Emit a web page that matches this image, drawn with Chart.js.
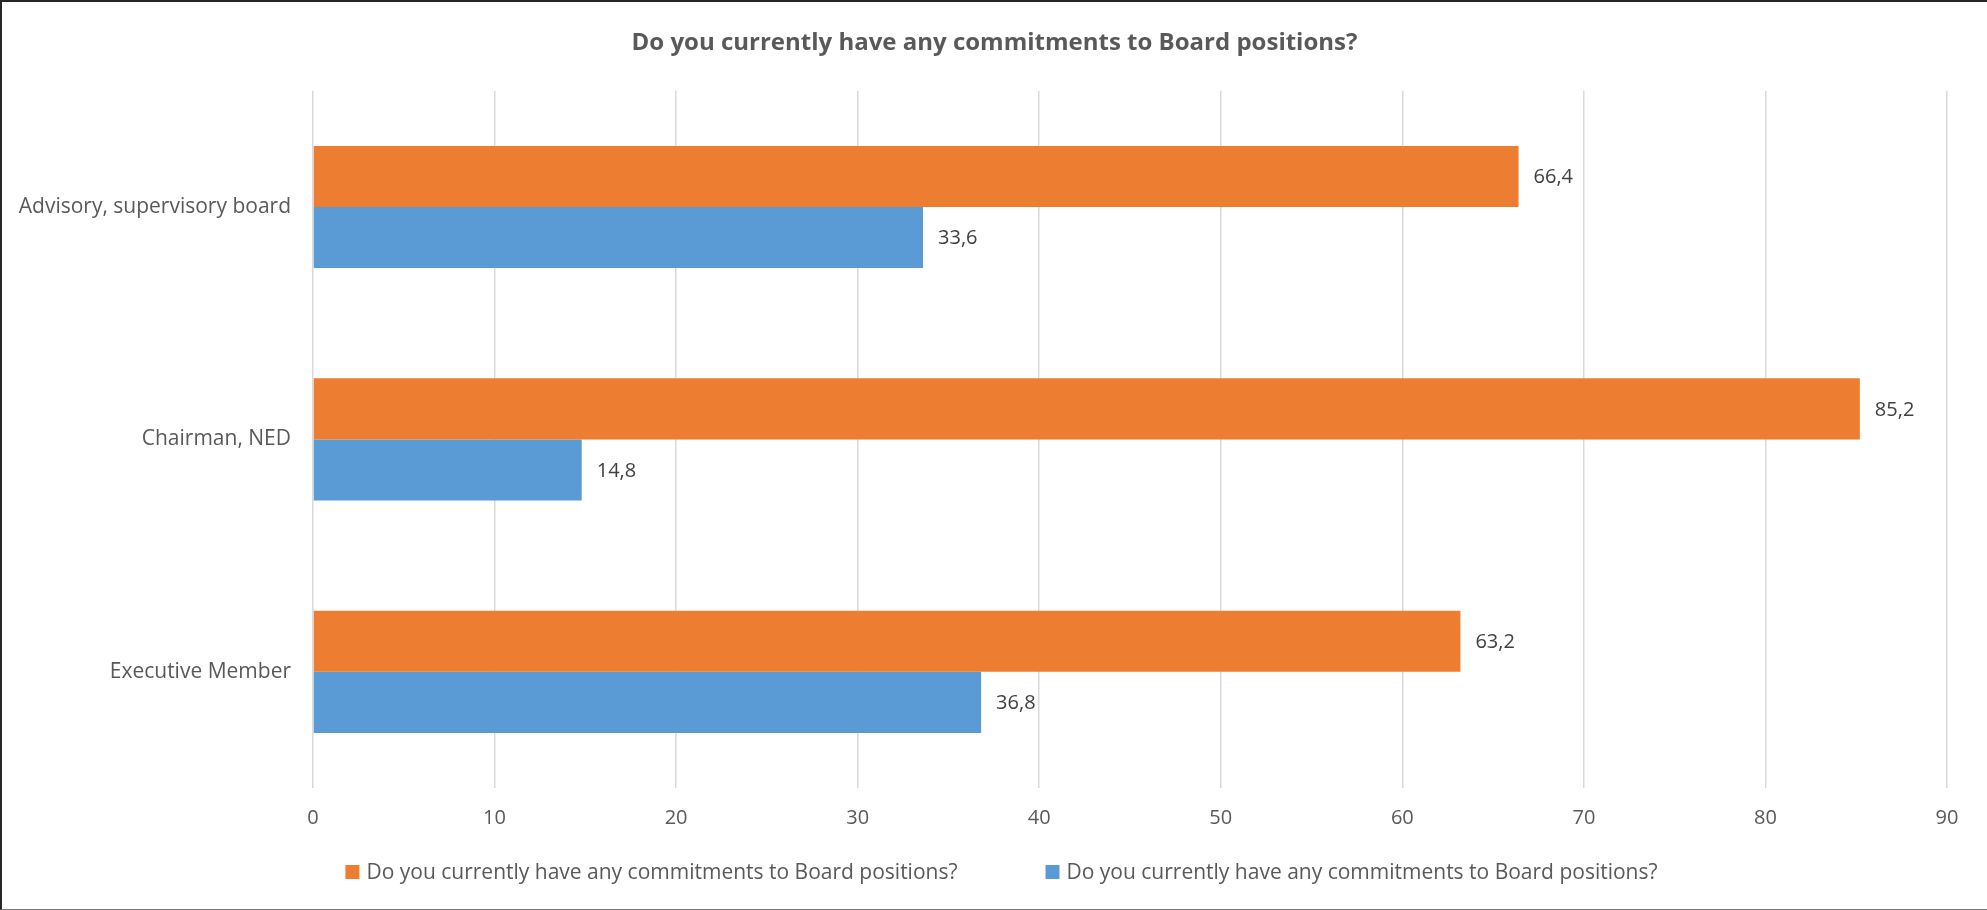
<!DOCTYPE html>
<html>
<head>
<meta charset="utf-8">
<script src="https://cdn.jsdelivr.net/npm/chart.js@4.4.1/dist/chart.umd.min.js"></script>
<style>
  html, body { margin: 0; padding: 0; background: #fff; }
  #frame {
    box-sizing: border-box;
    width: 1987px;
    height: 910px;
    border-top: 2px solid #262626;
    border-left: 2px solid #262626;
    border-bottom: 1px solid #7a7a7a;
    position: relative;
  }
</style>
</head>
<body>
<div id="frame"><canvas id="boardChart"></canvas></div>
<script>
let categories = ["Advisory, supervisory board", "Chairman, NED", "Executive Member"];
let seriesLabels = [
  "Do you currently have any commitments to Board positions?",
  "Do you currently have any commitments to Board positions?"
];
let yesValues = [66.4, 85.2, 63.2];
let noValues = [33.6, 14.8, 36.8];
let xTicks = [0, 10, 20, 30, 40, 50, 60, 70, 80, 90];

let FONT = "'Open Sans', Lato, sans-serif";

function fmt(v){
  return v.toFixed(1).replace(".", ",");
}

// value labels at the end of every bar
let barValues = {
  id: "barValues",
  afterDatasetsDraw(chart){
    let ctx = chart.ctx;
    ctx.save();
    ctx.font = "20px " + FONT;
    ctx.fillStyle = "#404040";
    ctx.textAlign = "left";
    ctx.textBaseline = "middle";
    chart.data.datasets.forEach((ds, i) => {
      chart.getDatasetMeta(i).data.forEach((bar, j) => {
        ctx.fillText(fmt(ds.data[j]), bar.x + 15, bar.y + 1);
      });
    });
    ctx.restore();
  }
};

// legend row under the axis, wide gap between the two entries
let bottomLegend = {
  id: "bottomLegend",
  afterDraw(chart){
    let ctx = chart.ctx;
    let box = 14, gap = 7, spacing = 88;
    ctx.save();
    ctx.font = "21px " + FONT;
    ctx.textBaseline = "middle";
    let items = chart.data.datasets.map(ds => ({
      text: ds.label, color: ds.backgroundColor, w: ctx.measureText(ds.label).width
    }));
    let total = items.reduce((s, it) => s + box + gap + it.w, 0) + spacing * (items.length - 1);
    let x = (chart.width - total) / 2 + 7;
    let y = 870;
    items.forEach(it => {
      ctx.fillStyle = it.color;
      ctx.fillRect(x, y - box / 2, box, box);
      ctx.fillStyle = "#595959";
      ctx.fillText(it.text, x + box + gap, y + 1);
      x += box + gap + it.w + spacing;
    });
    ctx.restore();
  }
};

let chart = new Chart(document.getElementById("boardChart").getContext("2d"), {
  type: "bar",
  data: {
    labels: categories,
    datasets: [{
      label: seriesLabels[0],
      data: yesValues,
      backgroundColor: "#ED7D31"
    }, {
      label: seriesLabels[1],
      data: noValues,
      backgroundColor: "#5B9BD5"
    }]
  },
  options: {
    indexAxis: "y",
    responsive: true,
    maintainAspectRatio: false,
    animation: false,
    layout: { padding: { left: 0, right: 0, top: 0, bottom: 61 } },
    datasets: {
      bar: { categoryPercentage: 0.526, barPercentage: 1.0 }
    },
    plugins: {
      legend: { display: false },
      tooltip: { enabled: false },
      title: {
        display: true,
        text: "Do you currently have any commitments to Board positions?",
        color: "#595959",
        font: { family: FONT, size: 24, weight: "bold" },
        padding: { top: 27, bottom: 33 }
      }
    },
    scales: {
      x: {
        min: 0,
        max: 90,
        afterBuildTicks(scale){
          scale.ticks = xTicks.map(v => ({ value: v }));
        },
        grid: { color: "#d9d9d9", lineWidth: 1.5, drawTicks: false },
        border: { display: false },
        ticks: {
          color: "#595959",
          padding: 18,
          font: { family: FONT, size: 20 }
        }
      },
      y: {
        grid: { display: false, drawTicks: false },
        border: { display: false },
        afterFit(scale){
          scale.width = 311;
        },
        ticks: {
          color: "#595959",
          padding: 22,
          font: { family: FONT, size: 21 }
        }
      },
      // empty margin on the right so the title stays centred on the page
      yRight: {
        type: "linear",
        position: "right",
        grid: { display: false, drawTicks: false },
        border: { display: false },
        ticks: { display: false },
        afterFit(scale){
          scale.width = 40;
        }
      }
    }
  },
  plugins: [barValues, bottomLegend]
});
</script>
</body>
</html>
